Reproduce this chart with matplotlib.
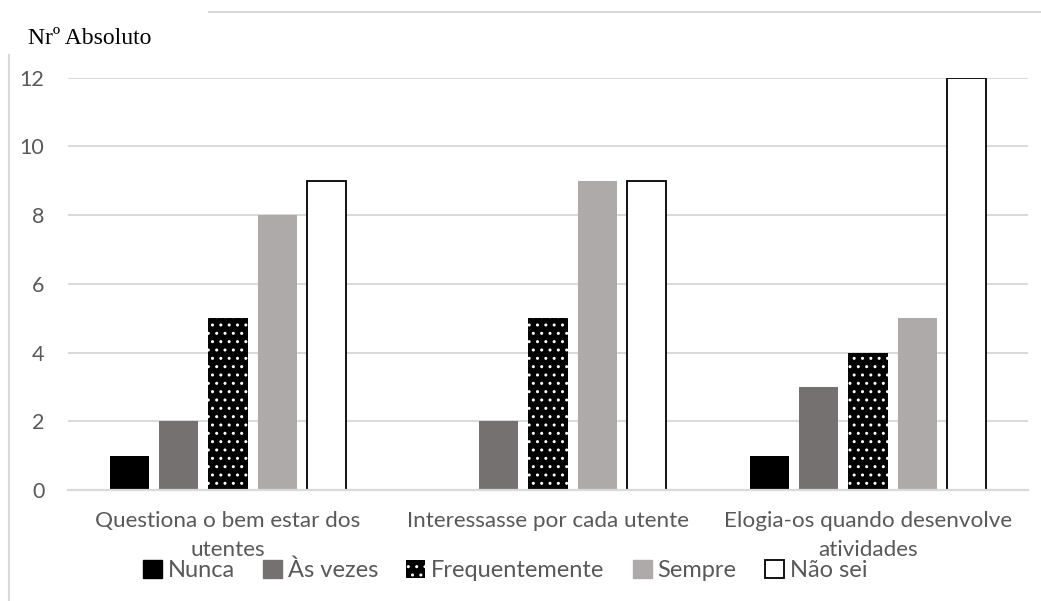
import numpy as np
import matplotlib
matplotlib.use("Agg")
import matplotlib.pyplot as plt
from matplotlib.lines import Line2D
from matplotlib.patches import Patch

# Data
categories = ["Questiona o bem estar dos\nutentes",
              "Interessasse por cada utente",
              "Elogia-os quando desenvolve\natividades"]
series_names = ["Nunca", "Às vezes", "Frequentemente", "Sempre", "Não sei"]
nunca = [1, 0, 1]
as_vezes = [2, 2, 3]
frequentemente = [5, 5, 4]
sempre = [8, 9, 5]
nao_sei = [9, 9, 12]
y_ticks = [0, 2, 4, 6, 8, 10, 12]

series = [nunca, as_vezes, frequentemente, sempre, nao_sei]
text_color = "#595959"
grid_color = "#d9d9d9"

plt.rcParams["font.family"] = ["Lato", "DejaVu Sans"]
plt.rcParams["hatch.linewidth"] = 1.0

fig = plt.figure(figsize=(10.41, 6.01), dpi=100)
ax = fig.add_axes([68 / 1041, 1 - 490 / 601, 960 / 1041, (490 - 77.5) / 601])

x = np.arange(len(categories))
step = 0.154
width = 0.122
offsets = (np.arange(5) - 2) * step

styles = [
    dict(color="black"),
    dict(color="#767171"),
    dict(facecolor="black", edgecolor="white", hatch="..", linewidth=0),
    dict(color="#aeaaaa"),
    dict(facecolor="white", edgecolor="black", linewidth=1.3),
]

for vals, off, st, name in zip(series, offsets, styles, series_names):
    vals = np.array(vals, dtype=float)
    mask = vals > 0
    ax.bar(x[mask] + off, vals[mask], width, label=name, zorder=3, **st)

ax.set_xlim(-0.5, 2.5)
ax.set_ylim(0, 12)
ax.set_yticks(y_ticks)
ax.set_xticks(x)
ax.set_xticklabels(categories, fontsize=16.2, color=text_color, linespacing=1.55)
ax.tick_params(axis="y", length=0, pad=17, labelsize=15.5, labelcolor=text_color)
ax.tick_params(axis="x", length=0, pad=15)
ax.grid(axis="y", color=grid_color, linewidth=1.4, zorder=0)
for s in ["top", "right", "left"]:
    ax.spines[s].set_visible(False)
ax.spines["bottom"].set_color(grid_color)
ax.spines["bottom"].set_linewidth(1.6)
ax.spines["bottom"].set_zorder(4)

fig.text(28 / 1041, 1 - 38 / 601, "Nrº Absoluto", family="Liberation Serif",
         fontsize=17, color="black", va="center", ha="left")

handles = [
    Patch(facecolor="black", edgecolor="black"),
    Patch(facecolor="#767171", edgecolor="#767171"),
    Patch(facecolor="black", edgecolor="white", hatch="..", linewidth=0),
    Patch(facecolor="#aeaaaa", edgecolor="#aeaaaa"),
    Patch(facecolor="white", edgecolor="black", linewidth=1.3),
]
leg = fig.legend(handles, series_names, loc="center", bbox_to_anchor=(505 / 1041, 1 - 570 / 601),
                 ncol=5, frameon=False, fontsize=17, handlelength=0.8, handleheight=0.8,
                 handletextpad=0.25, columnspacing=1.2, labelcolor=text_color)

# outer frame fragments
fig.add_artist(Line2D([209 / 1041, 1], [1 - 12 / 601, 1 - 12 / 601], color=grid_color, linewidth=1.5))
fig.add_artist(Line2D([9 / 1041, 9 / 1041], [0, 1 - 55 / 601], color=grid_color, linewidth=1.5))

fig.savefig("out.png", dpi=100)
